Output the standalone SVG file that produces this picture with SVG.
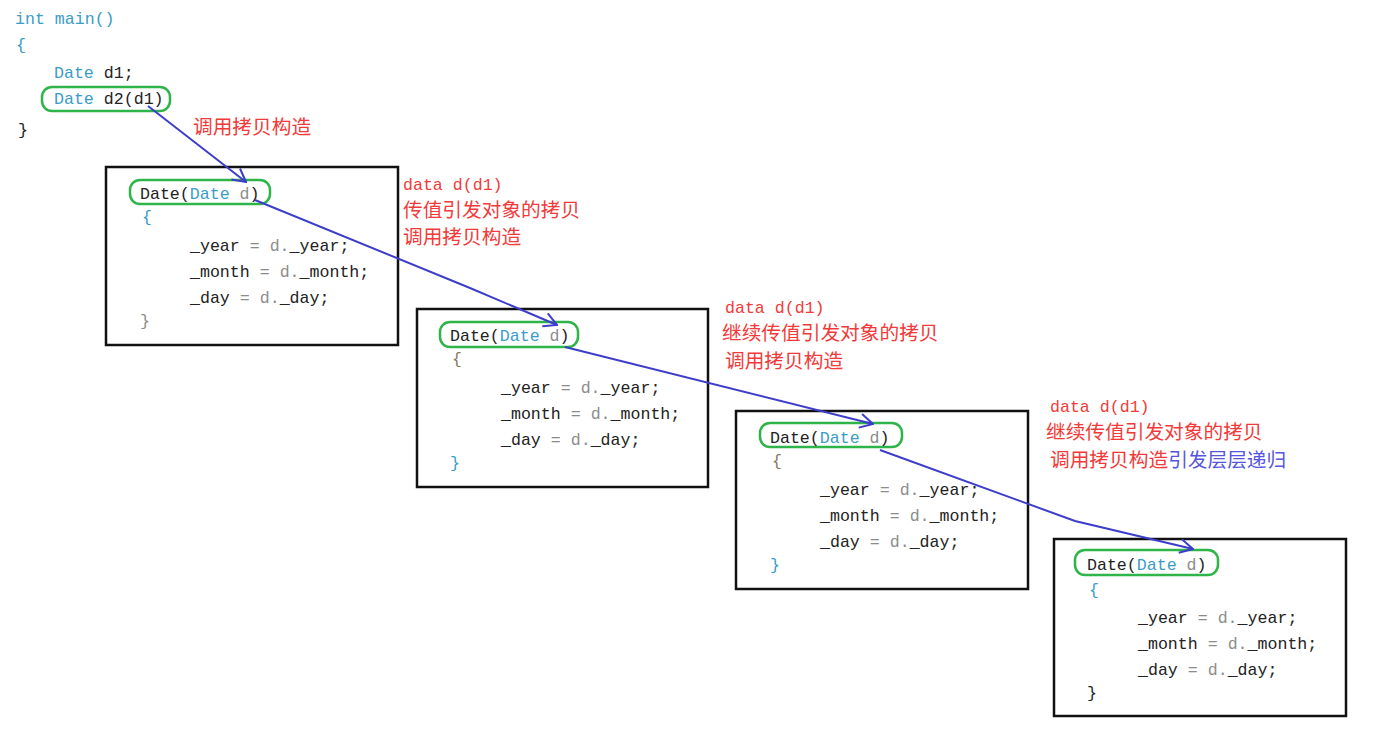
<svg xmlns="http://www.w3.org/2000/svg" width="1374" height="734" viewBox="0 0 1374 734">
<style>
.code{font-family:"Liberation Mono","Noto Sans CJK SC",monospace;font-size:16.6px;fill:#222;}
.kw{fill:#3a9cc8;}
.gr{fill:#8c8c8c;}
.br{fill:#8a7a60;}
.box{fill:#fff;stroke:#111;stroke-width:2.5;}
.hl{fill:none;stroke:#2fb44a;stroke-width:2.5;}
.lab{font-family:"Noto Sans CJK SC",sans-serif;font-size:19.7px;fill:#f23a3a;}
.labm{font-family:"Liberation Mono",monospace;font-size:16.6px;fill:#f23a3a;}
.blue{fill:#5555e0;}
.conn{fill:none;stroke:#3d3dcc;stroke-width:2;marker-end:url(#arr);}
</style>
<defs>
<marker id="arr" viewBox="0 0 16 16" refX="15" refY="8" markerWidth="16" markerHeight="16" markerUnits="userSpaceOnUse" orient="auto">
<path d="M2,1 L15,8 L2,15" fill="none" stroke="#3d3dcc" stroke-width="2"/>
</marker>
</defs>
<rect width="1374" height="734" fill="#fff"/>

<g id="main">
<text class="code kw" x="15" y="24">int main()</text>
<text class="code kw" x="16" y="50">{</text>
<text class="code" x="54" y="78"><tspan class="kw">Date</tspan> d1;</text>
<rect class="hl" x="42" y="87" width="128" height="24" rx="10"/>
<text class="code" x="54" y="104"><tspan class="kw">Date</tspan> d2(d1)</text>
<text class="code" x="18" y="135">}</text>
</g>

<g id="box1" transform="translate(106,167)">
<rect class="box" x="0" y="0" width="292" height="178"/>
<rect class="hl" x="24" y="13" width="140" height="24" rx="10"/>
<text class="code" x="34" y="32">Date(<tspan class="kw">Date</tspan> <tspan class="gr">d</tspan>)</text>
<text class="code kw" x="36" y="55">{</text>
<text class="code" x="84" y="84">_year <tspan class="gr">= d.</tspan>_year;</text>
<text class="code" x="84" y="110">_month <tspan class="gr">= d.</tspan>_month;</text>
<text class="code" x="84" y="136">_day <tspan class="gr">= d.</tspan>_day;</text>
<text class="code gr" x="34" y="159">}</text>
</g>

<g id="box2" transform="translate(417,309)">
<rect class="box" x="0" y="0" width="291" height="178"/>
<rect class="hl" x="23" y="13" width="138" height="25" rx="10"/>
<text class="code" x="33" y="32">Date(<tspan class="kw">Date</tspan> <tspan class="gr">d</tspan>)</text>
<text class="code br" x="35" y="55">{</text>
<text class="code" x="84" y="84">_year <tspan class="gr">= d.</tspan>_year;</text>
<text class="code" x="84" y="110">_month <tspan class="gr">= d.</tspan>_month;</text>
<text class="code" x="84" y="136">_day <tspan class="gr">= d.</tspan>_day;</text>
<text class="code kw" x="33" y="159">}</text>
</g>

<g id="box3" transform="translate(736,411)">
<rect class="box" x="0" y="0" width="292" height="178"/>
<rect class="hl" x="24" y="12" width="142" height="24" rx="10"/>
<text class="code" x="34" y="32">Date(<tspan class="kw">Date</tspan> <tspan class="gr">d</tspan>)</text>
<text class="code br" x="36" y="55">{</text>
<text class="code" x="84" y="84">_year <tspan class="gr">= d.</tspan>_year;</text>
<text class="code" x="84" y="110">_month <tspan class="gr">= d.</tspan>_month;</text>
<text class="code" x="84" y="136">_day <tspan class="gr">= d.</tspan>_day;</text>
<text class="code kw" x="34" y="159">}</text>
</g>

<g id="box4" transform="translate(1054,539)">
<rect class="box" x="0" y="0" width="292" height="177"/>
<rect class="hl" x="21" y="11" width="143" height="25" rx="10"/>
<text class="code" x="33" y="31">Date(<tspan class="kw">Date</tspan> <tspan class="gr">d</tspan>)</text>
<text class="code kw" x="35" y="56">{</text>
<text class="code" x="84" y="84">_year <tspan class="gr">= d.</tspan>_year;</text>
<text class="code" x="84" y="110">_month <tspan class="gr">= d.</tspan>_month;</text>
<text class="code" x="84" y="136">_day <tspan class="gr">= d.</tspan>_day;</text>
<text class="code" x="33" y="159">}</text>
</g>

<g id="labels">
<text class="lab" x="193" y="134">调用拷贝构造</text>
<text class="labm" x="403" y="190">data d(d1)</text>
<text class="lab" x="403" y="217">传值引发对象的拷贝</text>
<text class="lab" x="403" y="244">调用拷贝构造</text>
<text class="labm" x="725" y="313">data d(d1)</text>
<text class="lab" x="722" y="340">继续传值引发对象的拷贝</text>
<text class="lab" x="725" y="368">调用拷贝构造</text>
<text class="labm" x="1050" y="412">data d(d1)</text>
<text class="lab" x="1046" y="439">继续传值引发对象的拷贝</text>
<text class="lab" x="1050" y="467">调用拷贝构造<tspan class="blue">引发层层递归</tspan></text>
</g>

<g id="connectors">
<polyline class="conn" points="148,106 246,182"/>
<polyline class="conn" points="255,200 470,288 557,325"/>
<polyline class="conn" points="565,347 873,424"/>
<polyline class="conn" points="880,450 1075,521 1193,549"/>
</g>
</svg>
